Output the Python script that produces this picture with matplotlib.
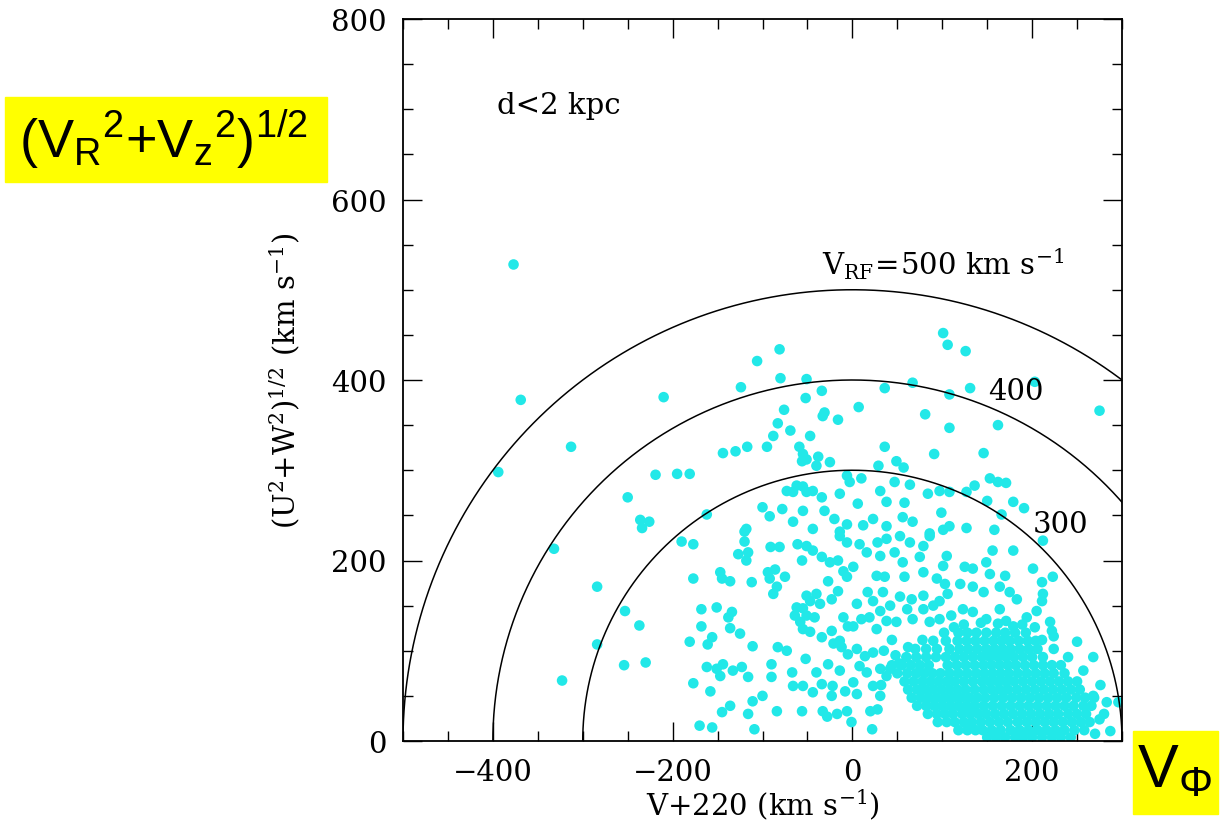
import numpy as np
import matplotlib
matplotlib.use("Agg")
import matplotlib.pyplot as plt
from matplotlib.ticker import MultipleLocator
from matplotlib.patches import Rectangle

# ---------------- data ----------------
# sparse / intermediate stars: (V+220, sqrt(U^2+W^2)) in km/s
sparse_stars = [
    (-377, 528), (-369, 378), (-394, 298), (-313, 326), (-250, 270), (-236, 245),
    (-234, 236), (-226, 243), (-332, 213), (-284, 171), (-253, 144), (-237, 128),
    (-284, 107), (-254, 84), (-230, 87), (-323, 67),
    (-81, 434), (-106, 421), (-80, 402), (-124, 392), (-51, 401), (-210, 381),
    (-34, 388), (-52, 380), (36, 391), (7, 370), (-76, 367), (-31, 364), (-33, 360),
    (-16, 356), (-83, 352), (-69, 344), (-88, 338), (-47, 338), (-95, 326),
    (-117, 326), (-130, 321), (-144, 319), (-59, 326), (-55, 318), (-51, 312),
    (-38, 315), (-25, 309), (-56, 310), (-40, 305), (36, 326), (29, 305),
    (-219, 295), (-195, 296), (-181, 296), (-6, 294), (-3, 287), (10, 291),
    (-73, 277), (-62, 283), (-55, 282), (-51, 276), (-44, 277), (-66, 276),
    (-34, 270), (-14, 274), (31, 277), (6, 263), (38, 265), (-100, 259), (-78, 257),
    (-55, 255), (-31, 255), (-162, 251), (-92, 249), (-66, 243), (-20, 246),
    (-6, 240), (23, 246), (-118, 235), (-44, 235), (-14, 232), (12, 239), (38, 238),
    (101, 452), (106, 439), (126, 432), (203, 398), (275, 366), (67, 397), (108, 384),
    (131, 391), (81, 362), (108, 347), (162, 350), (91, 318), (146, 319), (49, 310),
    (57, 303), (153, 291), (162, 287), (171, 286), (136, 283), (47, 287), (64, 284),
    (97, 277), (108, 276), (127, 276), (179, 265), (191, 258), (150, 266), (84, 274),
    (58, 264), (99, 253), (166, 251), (56, 248), (67, 243), (108, 238), (101, 234),
    (127, 236), (158, 234), (86, 230),
    (-190, 221), (-177, 218), (-120, 232), (-120, 221), (-127, 207), (-116, 209),
    (-118, 200), (-91, 215), (-81, 215), (-61, 218), (-51, 216), (-44, 211),
    (-56, 200), (-34, 204), (-25, 198), (-16, 200), (-14, 227), (-6, 220), (8, 218),
    (16, 209), (28, 220), (31, 205), (1, 193), (-10, 188), (-6, 182), (27, 183),
    (36, 182), (-147, 187), (-145, 180), (-136, 177), (-177, 180), (-112, 176),
    (-94, 187), (-86, 190), (-92, 180), (-75, 182), (-84, 171), (-88, 163),
    (-27, 177), (-16, 166), (-51, 161), (-40, 163), (-47, 155), (-36, 152),
    (-23, 157), (-62, 148), (-55, 147), (-64, 139), (-58, 132), (-51, 139),
    (-42, 137), (-55, 124), (-47, 121), (-34, 115), (-23, 122), (-14, 111),
    (-21, 108), (-10, 137), (1, 127), (5, 152), (17, 165), (23, 155), (31, 144),
    (38, 133), (10, 135), (19, 137), (27, 124), (-5, 127), (-168, 146), (-151, 148),
    (-134, 143), (-138, 137), (-168, 127), (-136, 125), (-125, 119), (-156, 115),
    (-161, 107), (-181, 110), (-111, 105), (-83, 104), (-73, 100), (-52, 91),
    (-90, 85), (-67, 76), (-40, 76), (-27, 85), (-14, 78), (-5, 96), (-12, 104),
    (5, 102), (14, 94), (23, 98), (8, 83), (16, 76), (31, 80), (38, 72), (-144, 85),
    (-151, 80), (-147, 72), (-133, 78), (-123, 82), (-116, 71), (-162, 82),
    (-177, 64), (-158, 55), (-90, 71), (-66, 61), (-55, 61), (-44, 54), (-34, 63),
    (-22, 61), (-23, 50), (-8, 55), (1, 65), (5, 52), (23, 61), (31, 50), (-100, 50),
    (-111, 44), (-136, 39), (-145, 32), (-116, 30), (-84, 33), (-56, 33), (-33, 33),
    (-28, 27), (-17, 30), (-6, 33), (-1, 21), (20, 33), (28, 35), (22, 13),
    (-170, 17), (-156, 15), (-109, 13),
    (38, 224), (53, 227), (64, 220), (86, 227), (79, 216), (47, 209), (56, 198),
    (75, 204), (105, 205), (101, 194), (125, 193), (134, 191), (149, 198), (156, 211),
    (179, 211), (212, 222), (153, 185), (170, 183), (201, 191), (223, 182), (211, 176),
    (79, 187), (58, 182), (94, 180), (103, 174), (120, 174), (134, 171), (146, 165),
    (164, 171), (175, 165), (183, 157), (211, 155), (212, 163), (205, 144), (194, 137),
    (220, 132), (222, 122), (203, 126), (250, 110), (268, 93), (257, 78), (240, 93),
    (224, 116), (283, 43), (296, 43), (287, 11), (275, 24), (268, 50), (34, 165),
    (53, 160), (66, 157), (79, 161), (90, 150), (97, 155), (106, 163), (123, 146),
    (110, 139), (79, 146), (61, 146), (42, 150), (49, 132), (67, 135), (86, 132),
    (97, 135), (134, 143), (149, 135), (164, 146), (162, 130), (179, 127),
    (35, 100), (42, 80), (48, 95), (32, 62), (44, 112),
    (124, 129), (143, 131), (171, 133), (189, 129), (113, 126), (211, 112),
    (78, 112), (62, 104), (52, 86), (276, 62), (280, 30), (270, 8),
]

# dense core of disc stars: rows of sqrt(U^2+W^2) with the V+220 values seen on each
dense_rows = {
    4: [150, 160, 170, 181, 190, 200, 211, 222, 232, 243],
    12: [118, 128, 137, 145, 155, 165, 176, 186, 196, 206, 216, 226, 236, 247, 258],
    21: [95, 105, 114, 124, 133, 143, 153, 163, 173, 184, 194, 204, 214, 224, 234, 244, 254, 264],
    30: [84, 94, 103, 112, 122, 131, 140, 149, 159, 169, 179, 189, 199, 209, 219, 229, 240, 250, 260],
    39: [72, 82, 91, 100, 109, 118, 127, 136, 146, 156, 166, 176, 186, 196, 206, 216, 226, 236, 246, 257, 266],
    48: [66, 76, 85, 94, 103, 112, 121, 130, 139, 148, 158, 168, 178, 188, 198, 208, 218, 228, 238, 249, 259, 269],
    57: [62, 72, 81, 90, 99, 108, 117, 126, 136, 146, 155, 164, 173, 183, 193, 203, 213, 223, 233, 243, 253],
    66: [58, 68, 78, 87, 96, 105, 114, 124, 134, 144, 153, 162, 171, 180, 190, 200, 210, 220, 230, 240, 250],
    75: [50, 61, 71, 80, 89, 98, 108, 118, 128, 138, 147, 156, 165, 174, 184, 194, 204, 214, 224, 236],
    84: [44, 55, 65, 75, 85, 106, 116, 126, 136, 146, 155, 164, 173, 182, 192, 202, 212, 222, 232],
    93: [60, 71, 82, 93, 104, 114, 124, 134, 144, 153, 162, 171, 180, 190, 200, 212],
    102: [70, 82, 94, 108, 119, 129, 139, 149, 158, 167, 176, 186, 196, 206, 224],
    111: [90, 104, 117, 127, 137, 147, 157, 166, 175, 185, 195, 204],
    120: [102, 118, 128, 138, 149, 160, 170, 181, 193],
}

v_rf_radii = [300, 400, 500]
arc_labels = ["300", "400", r"$\mathregular{V_{RF}\!=\!500\ km\ s^{-1}}$"]
arc_label_pos = [(232, 240), (182, 388), (-34, 517)]

x_ticks = [-400, -200, 0, 200]
y_ticks = [0, 200, 400, 600, 800]

# ---------------- figure ----------------
plt.rcParams["font.family"] = ["DejaVu Serif"]
plt.rcParams["mathtext.default"] = "regular"

W, H = 1222, 837
fig = plt.figure(figsize=(W / 100, H / 100), dpi=100)
ax = fig.add_axes([403 / W, 95 / H, 719 / W, 722 / H])

xs = [p[0] for p in sparse_stars]
ys = [p[1] for p in sparse_stars]
for yy, row in dense_rows.items():
    xs.extend(row)
    ys.extend([yy] * len(row))

cyan = "#22E8E8"
ax.scatter(xs, ys, s=58, c=cyan, edgecolors="none", zorder=2)

theta = np.linspace(0, np.pi, 600)
for r in v_rf_radii:
    ax.plot(r * np.cos(theta), r * np.sin(theta), color="black", lw=1.1, zorder=3)

ax.text(arc_label_pos[0][0], arc_label_pos[0][1], arc_labels[0], fontsize=21,
        ha="center", va="center")
ax.text(arc_label_pos[1][0], arc_label_pos[1][1], arc_labels[1], fontsize=21,
        ha="center", va="center")
ax.text(arc_label_pos[2][0], arc_label_pos[2][1], arc_labels[2], fontsize=21,
        ha="left", va="baseline")
ax.text(-395, 705, "d<2 kpc", fontsize=21, ha="left", va="center")

ax.set_xlim(-500, 300)
ax.set_ylim(0, 800)
ax.set_xticks(x_ticks)
ax.set_yticks(y_ticks)
ax.xaxis.set_minor_locator(MultipleLocator(50))
ax.yaxis.set_minor_locator(MultipleLocator(50))
ax.tick_params(which="both", direction="in", top=True, right=True, width=1.0,
               labelsize=21, pad=12)
ax.tick_params(which="major", length=14)
ax.tick_params(which="minor", length=7)
for s in ax.spines.values():
    s.set_linewidth(1.3)

ax.set_xlabel(r"$\mathregular{V{+}220\ (km\ s^{-1})}$", fontsize=21)
ax.xaxis.set_label_coords(0.5, -0.062)
ax.set_ylabel(r"$\mathregular{(U^{2}{+}W^{2})^{1/2}\ (km\ s^{-1})}$", fontsize=21)
ax.yaxis.set_label_coords(-0.14, 0.5)

# yellow annotation boxes
fig.patches.append(Rectangle((5 / W, 1 - 183 / H), 322 / W, 85 / H,
                             transform=fig.transFigure, color="#FFFF00", zorder=0))
fig.patches.append(Rectangle((1133 / W, 1 - 815 / H), 85 / W, 83 / H,
                             transform=fig.transFigure, color="#FFFF00", zorder=0))
fig.text(164 / W, 1 - 140 / H, r"$\mathregular{(V_R{}^2{+}V_z{}^2)^{1/2}}$",
         family=["Liberation Sans", "DejaVu Sans"], fontsize=39,
         ha="center", va="center")
fig.text(1175 / W, 1 - 772 / H, r"$\mathregular{V_{Φ}}$",
         family=["Liberation Sans", "DejaVu Sans"], fontsize=44,
         ha="center", va="center")

fig.savefig("out.png", dpi=100)
